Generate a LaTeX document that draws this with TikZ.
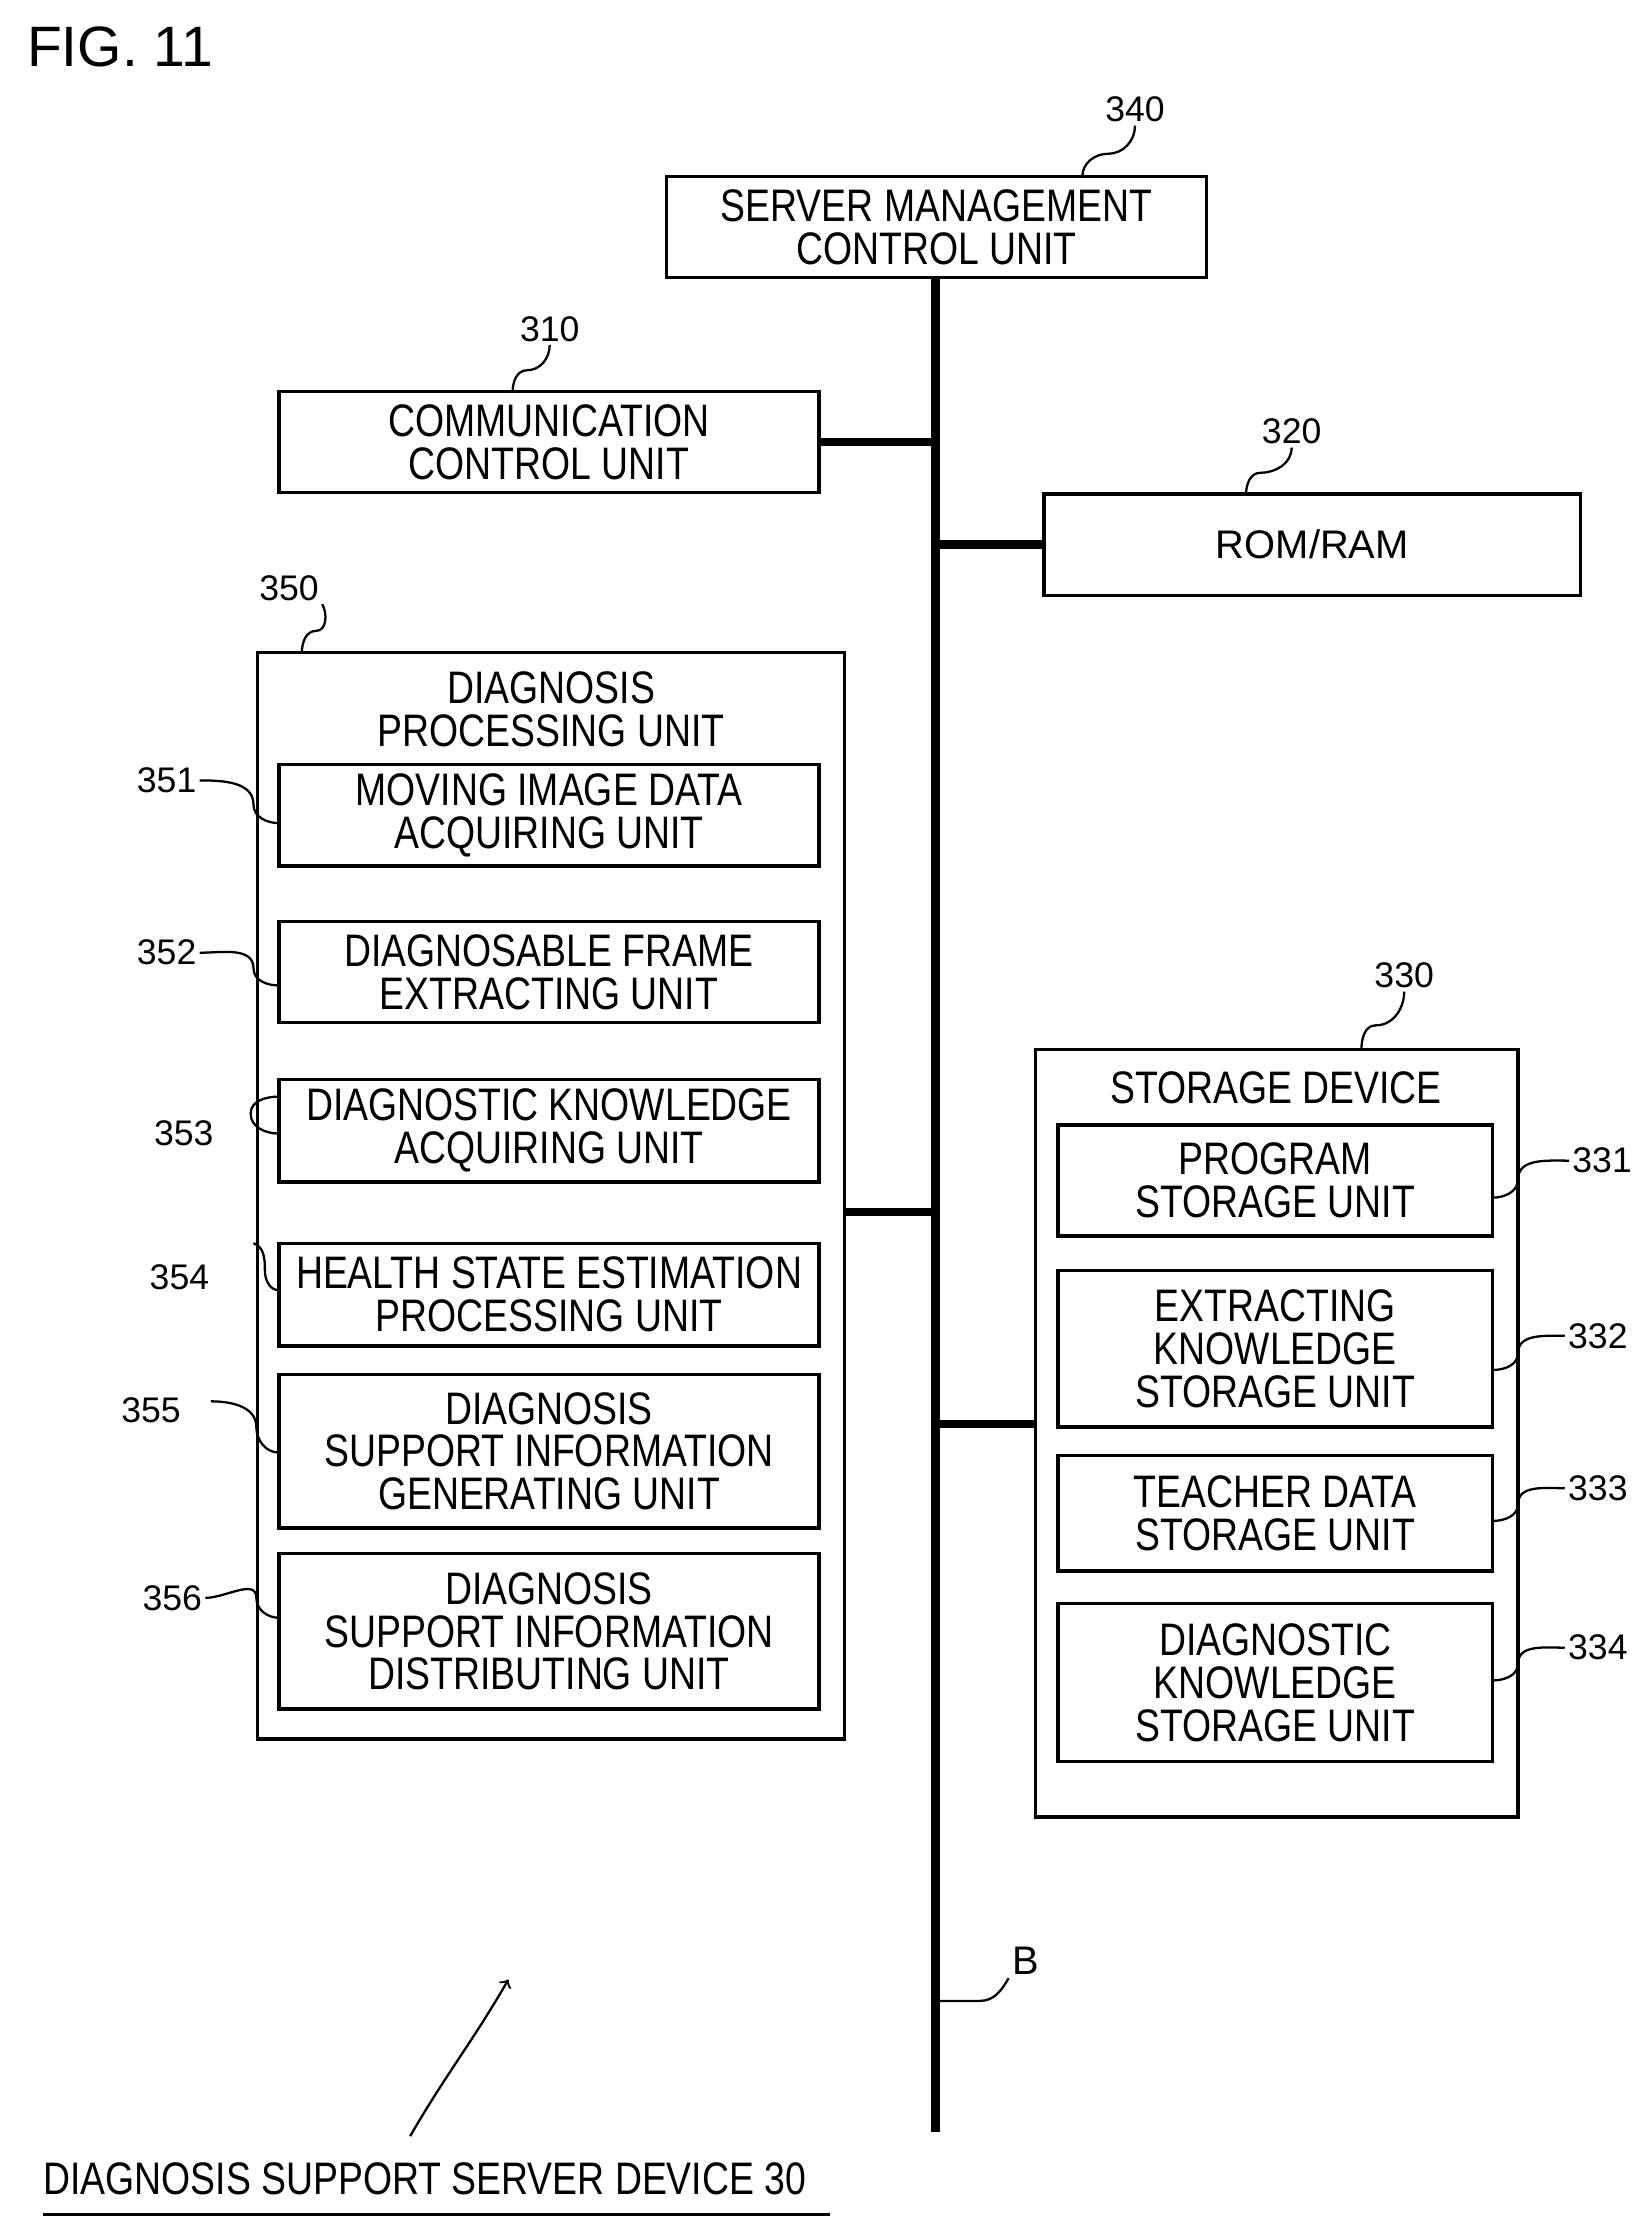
\documentclass[tikz,border=0pt]{standalone}
\usepackage{fontspec}
\setmainfont{Liberation Sans}
\newfontfamily\narrowfont{Liberation Sans}[FakeStretch=0.82]
\usetikzlibrary{fit,positioning}
\tikzset{
	box/.style={draw, line width=1.2pt, inner sep=0pt},
	txt/.style={font=\narrowfont\fontsize{16}{15}\selectfont, align=center, inner sep=0pt},
	num/.style={font=\fontsize{12.5}{14}\selectfont, inner sep=1pt},
	lead/.style={line width=0.8pt},
	bus/.style={line width=3pt}
}
\begin{document}
\begin{tikzpicture}[x=0.5pt,y=-0.5pt]
	\useasboundingbox (0,0) rectangle (1160,1568);
	\node[font=\fontsize{20}{22}\selectfont, anchor=west] (fig) at (12,33) {FIG. 11};
	% bus
	\coordinate (bt) at (657,195);
	\coordinate (bb) at (657,1497);
	\draw[bus] (bt) -- (bb);
	% top boxes
	\node[box, fit={(468,124)(847,195)}, label={[txt]center:SERVER MANAGEMENT\\CONTROL UNIT}] (n340) {};
	\node[box, fit={(196,275)(575,346)}, label={[txt]center:COMMUNICATION\\CONTROL UNIT}] (n310) {};
	\node[box, fit={(733,347)(1110,418)}, label={[txt, font=\fontsize{14}{16}\selectfont]center:ROM/RAM}] (n320) {};
	% diagnosis processing unit
	\node[box, fit={(181,458)(593,1221)}] (n350) {};
	\node[txt] (t350) at (387,498) {DIAGNOSIS\\PROCESSING UNIT};
	\node[box, fit={(196,537)(575,608)}, label={[txt]center:MOVING IMAGE DATA\\ACQUIRING UNIT}] (n351) {};
	\node[box, fit={(196,647)(575,718)}, label={[txt]center:DIAGNOSABLE FRAME\\EXTRACTING UNIT}] (n352) {};
	\node[box, fit={(196,758)(575,830)}, label={[txt]center:DIAGNOSTIC KNOWLEDGE\\ACQUIRING UNIT}] (n353) {};
	\node[box, fit={(196,873)(575,945)}, label={[txt]center:HEALTH STATE ESTIMATION\\PROCESSING UNIT}] (n354) {};
	\node[box, fit={(196,965)(575,1073)}, label={[txt]center:DIAGNOSIS\\SUPPORT INFORMATION\\GENERATING UNIT}] (n355) {};
	\node[box, fit={(196,1091)(575,1200)}, label={[txt]center:DIAGNOSIS\\SUPPORT INFORMATION\\DISTRIBUTING UNIT}] (n356) {};
	% storage device
	\node[box, fit={(727,737)(1066,1276)}] (n330) {};
	\node[txt] (t330) at (896,764) {STORAGE DEVICE};
	\node[box, fit={(743,790)(1048,868)}, label={[txt]center:PROGRAM\\STORAGE UNIT}] (n331) {};
	\node[box, fit={(743,892)(1048,1002)}, label={[txt]center:EXTRACTING\\KNOWLEDGE\\STORAGE UNIT}] (n332) {};
	\node[box, fit={(743,1022)(1048,1103)}, label={[txt]center:TEACHER DATA\\STORAGE UNIT}] (n333) {};
	\node[box, fit={(743,1126)(1048,1237)}, label={[txt]center:DIAGNOSTIC\\KNOWLEDGE\\STORAGE UNIT}] (n334) {};
	% branches
	\draw[bus] (n310.east) -- (n310.east -| bt);
	\draw[bus] (n320.west) -- (n320.west -| bt);
	\draw[bus] (593,851) -- (bt |- 0,851);
	\draw[bus] (727,1000) -- (bt |- 0,1000);
	% reference numerals
	\node[num] (r340) at (797,77) {340};
	\draw[lead] (r340.south) to[out=-90,in=0] (778,108) to[out=180,in=90] (760,124);
	\node[num] (r310) at (386,231) {310};
	\draw[lead] (r310.south) to[out=-90,in=0] (370,260) to[out=180,in=90] (360,275);
	\node[num] (r320) at (907,303) {320};
	\draw[lead] (r320.south) to[out=-90,in=0] (885,332) to[out=180,in=90] (875,347);
	\node[num] (r350) at (203,413) {350};
	\draw[lead] (r350.south east) to[out=-60,in=0] (222,443) to[out=180,in=90] (212,458);
	\node[num] (r330) at (986,685) {330};
	\draw[lead] (r330.south) to[out=-90,in=0] (966,720) to[out=180,in=90] (956,737);
	\node[num] (r351) at (117,548) {351};
	\draw[lead] (r351.east) to[out=0,in=90] (178,565) to[out=-90,in=180] (196,578);
	\node[num] (r352) at (117,669) {352};
	\draw[lead] (r352.east) to[out=0,in=90] (178,680) to[out=-90,in=180] (196,692);
	\node[num] (r353) at (129,796) {353};
	\draw[lead] (196,770) to[out=180,in=90] (176,782) to[out=-90,in=180] (196,796);
	\node[num] (r354) at (126,897) {354};
	\draw[lead] (178,873) to[out=-20,in=90] (186,892) to[out=-90,in=180] (196,906);
	\node[num] (r355) at (106,990) {355};
	\draw[lead] (148,984) to[out=0,in=90] (180,1002) to[out=-90,in=180] (196,1020);
	\node[num] (r356) at (121,1122) {356};
	\draw[lead] (r356.east) to[out=0,in=90] (180,1122) to[out=-90,in=180] (196,1136);
	\node[num] (r331) at (1125,815) {331};
	\draw[lead] (r331.west) to[out=180,in=90] (1066,828) to[out=-90,in=0] (1048,841);
	\node[num] (r332) at (1122,938) {332};
	\draw[lead] (r332.west) to[out=180,in=90] (1066,950) to[out=-90,in=0] (1048,962);
	\node[num] (r333) at (1122,1045) {333};
	\draw[lead] (r333.west) to[out=180,in=90] (1066,1056) to[out=-90,in=0] (1048,1068);
	\node[num] (r334) at (1122,1157) {334};
	\draw[lead] (r334.west) to[out=180,in=90] (1066,1168) to[out=-90,in=0] (1048,1180);
	% bus label
	\node[num, font=\fontsize{14}{16}\selectfont] (rb) at (720,1377) {B};
	\coordinate (bl) at (660,1405);
	\draw[lead] (rb.south west) to[out=-120,in=0] (688,1405) to[out=180,in=0] (bl);
	% device label
	\node[txt, anchor=west] (dev) at (30,1530) {DIAGNOSIS SUPPORT SERVER DEVICE 30};
	\draw[lead] (30,1555) -- (583,1555);
	\coordinate (ah) at (357,1390);
	\draw[lead, ->] (288,1500) to[out=60,in=-120] (ah);
\end{tikzpicture}
\end{document}
